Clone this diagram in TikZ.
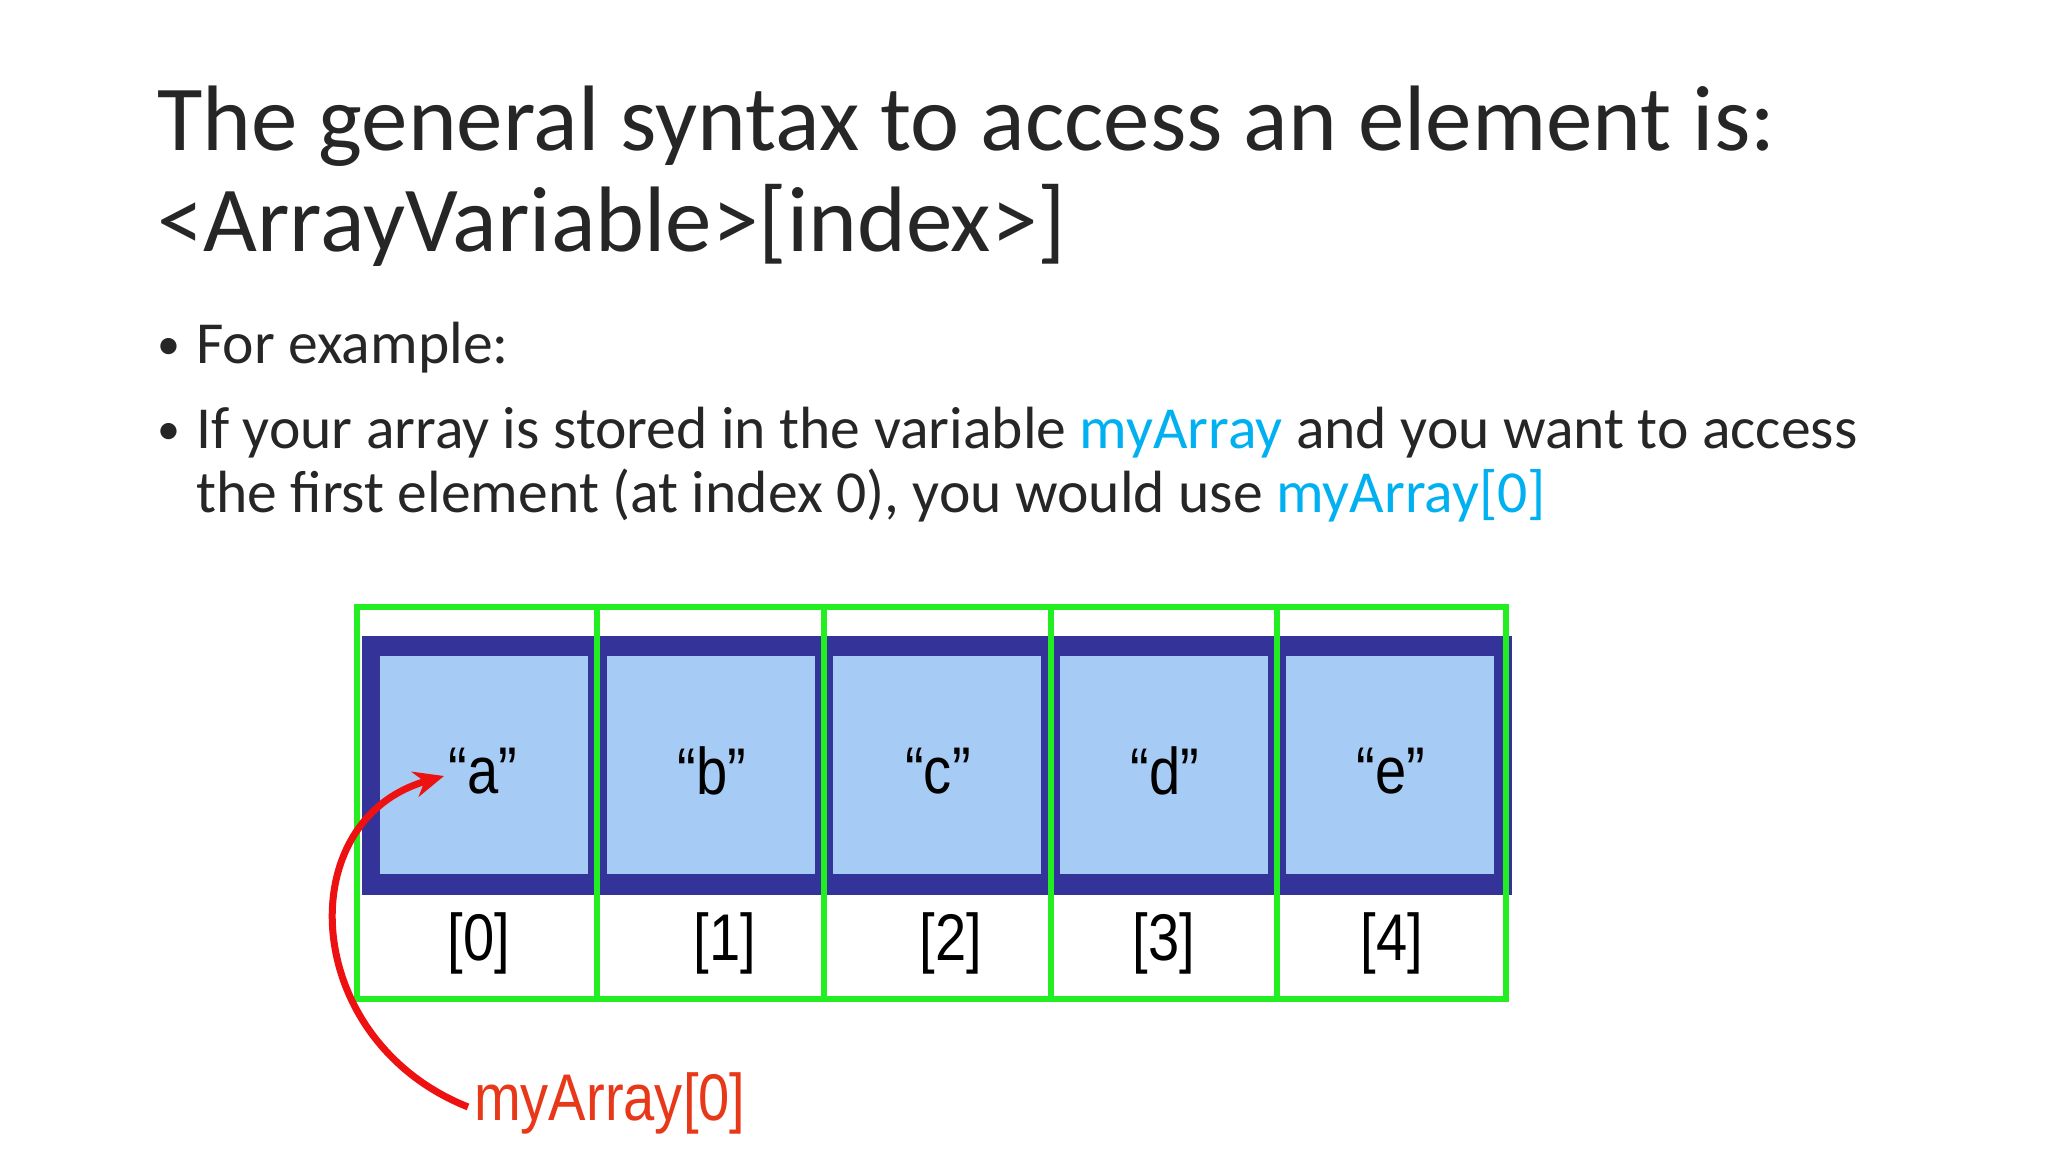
\documentclass[tikz,border=0pt]{standalone}
\usepackage{fontspec}
\setmainfont{Carlito}
\newfontfamily\arialf{Liberation Sans}
\usetikzlibrary{arrows.meta}
\definecolor{titlegray}{HTML}{262626}
\definecolor{cyanlink}{HTML}{00B0F0}
\definecolor{darkband}{HTML}{333399}
\definecolor{cellblue}{HTML}{A6CCF5}
\definecolor{gridgreen}{HTML}{22EE22}
\definecolor{redlabel}{HTML}{E8381A}
\definecolor{arrowred}{HTML}{EE1111}
\newcommand{\narrow}[1]{\scalebox{0.85}[1]{#1}}
\tikzset{
  txt/.style={anchor=base west, inner sep=0pt, text=titlegray},
  title/.style={txt, font=\fontsize{93}{98}\selectfont},
  body/.style={txt, font=\fontsize{59.6}{65}\selectfont},
  bul/.style={txt, font=\fontsize{46}{50}\selectfont},
  arr/.style={font=\arialf\fontsize{66}{70}\selectfont, inner sep=0pt, text=black},
  grid/.style={draw=gridgreen, line width=5.5pt}
}
\begin{document}
\begin{tikzpicture}[x=1pt,y=-1pt]
\useasboundingbox[fill=white] (0,0) rectangle (2048,1152);
\node[title] (t1) at (157,150) {The general syntax to access an element is:};
\node[title] (t2) at (157,251) {<ArrayVariable>[index>]};
\node[bul] (b1d) at (157,359) {•};
\node[body] (b1) at (196,363) {For example:};
\node[bul] (b2d) at (157,444) {•};
\node[body] (b2) at (196,448) {If your array is stored in the variable \textcolor{cyanlink}{myArray} and you want to access};
\node[body] (b3) at (196,512) {the first element (at index 0), you would use \textcolor{cyanlink}{myArray[0]}};
% dark band
\fill[darkband] (362,636) rectangle (1512,895);
% cells
\foreach \xa/\xb in {380/588,607/815,833/1041,1060/1268,1286/1494}
  \fill[cellblue] (\xa,656) rectangle (\xb,874);
% green grid
\draw[grid] (357,607) rectangle (1506,999);
\foreach \xx in {597,824,1051,1277} \draw[grid] (\xx,607) -- (\xx,999);
% values
\node[arr] (va) at (483,771) {\narrow{“a”}};
\node[arr] (vb) at (712,771) {\narrow{“b”}};
\node[arr] (vc) at (938,771) {\narrow{“c”}};
\node[arr] (vd) at (1165,771) {\narrow{“d”}};
\node[arr] (ve) at (1391,771) {\narrow{“e”}};
\node[arr] (i0) at (479,943) {\narrow{[0]}};
\node[arr] (i1) at (725,943) {\narrow{[1]}};
\node[arr] (i2) at (951,943) {\narrow{[2]}};
\node[arr] (i3) at (1164,943) {\narrow{[3]}};
\node[arr] (i4) at (1392,943) {\narrow{[4]}};
\node[arr, anchor=base west, text=redlabel] (lab) at (474,1120) {\narrow{myArray[0]}};
\coordinate (tip) at (444,776);
\draw[arrowred, line width=7pt, -{Stealth[length=30pt,width=26pt]}]
  (lab.west) ++(-6,4) .. controls (300,1040) and (290,820) .. (tip);
\end{tikzpicture}
\end{document}
